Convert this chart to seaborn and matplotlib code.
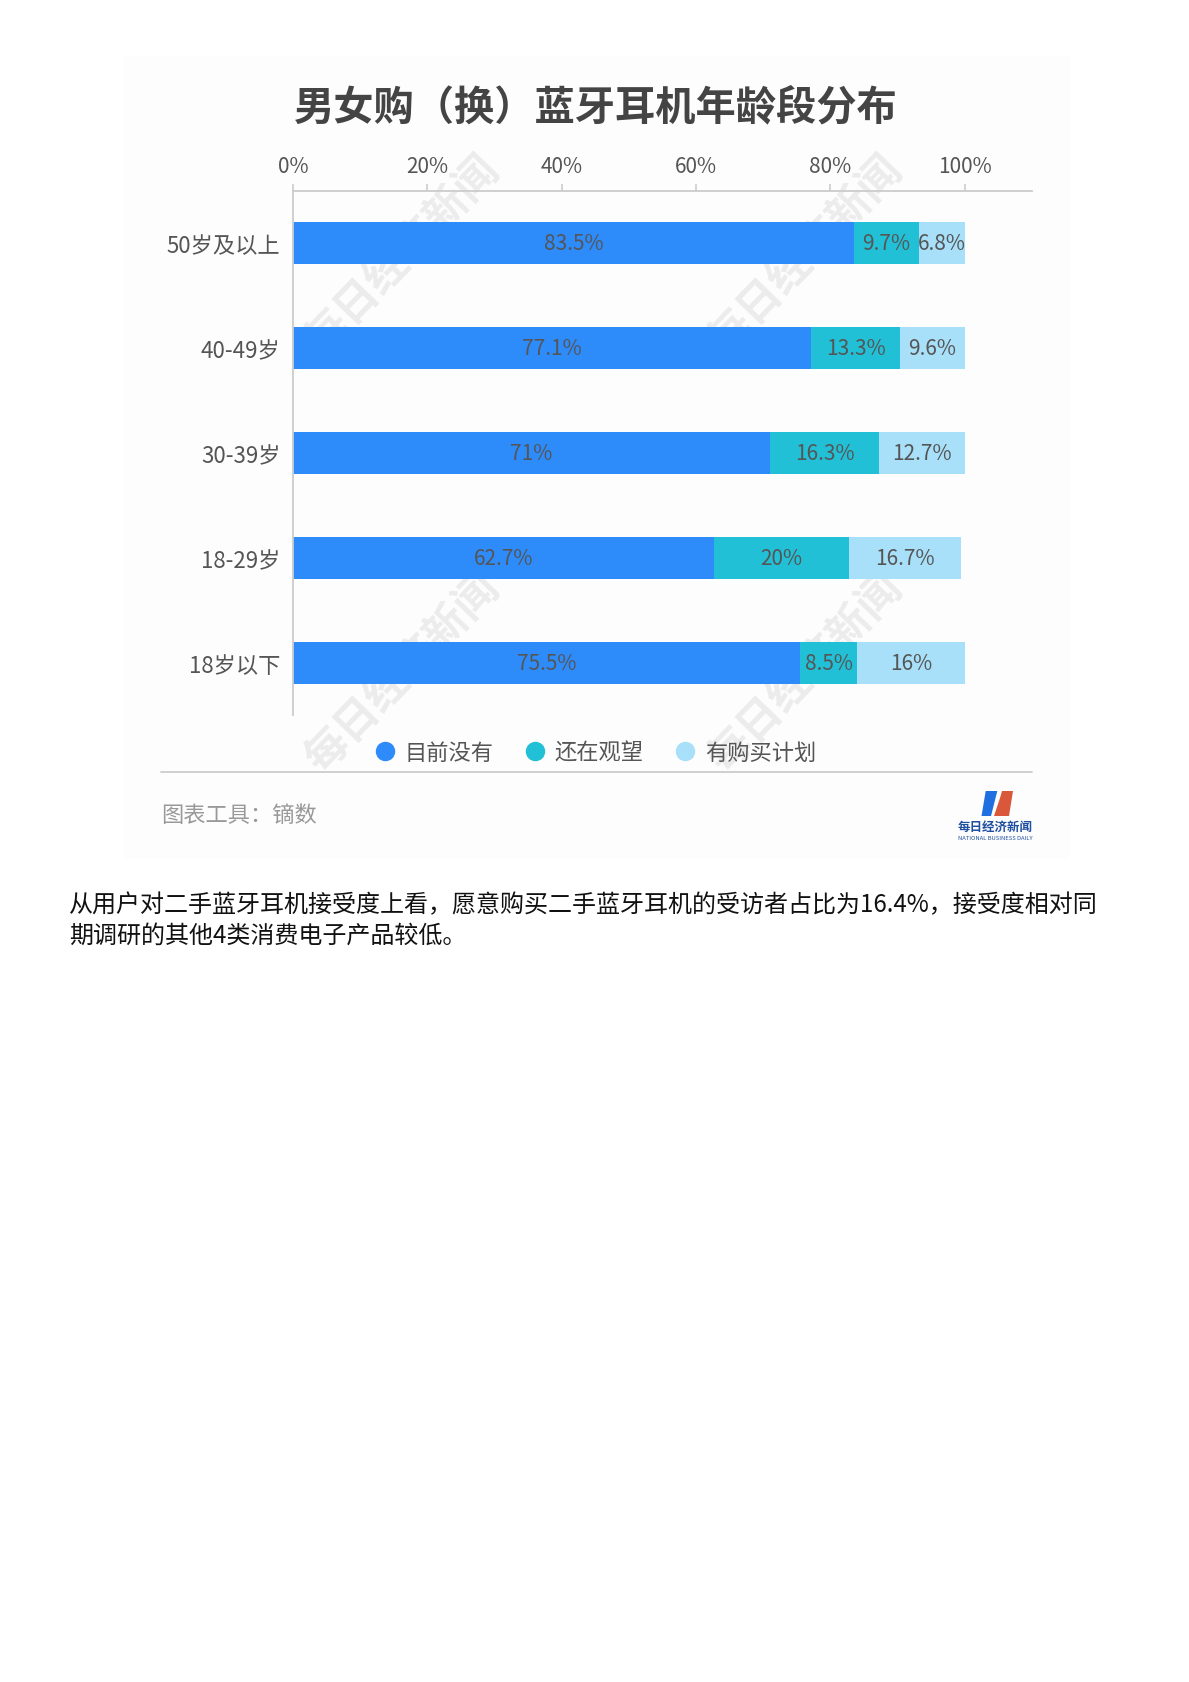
import matplotlib
matplotlib.use("Agg")
import matplotlib.pyplot as plt
import seaborn as sns
import pandas as pd
import numpy as np
from matplotlib.patches import Rectangle, Polygon
from matplotlib.lines import Line2D

# ---------------- data ----------------
categories = ["50岁及以上", "40-49岁", "30-39岁", "18-29岁", "18岁以下"]
series_names = ["目前没有", "还在观望", "有购买计划"]
none_now = [83.5, 77.1, 71.0, 62.7, 75.5]
watching = [9.7, 13.3, 16.3, 20.0, 8.5]
planning = [6.8, 9.6, 12.7, 16.7, 16.0]
value_labels = [
    ["83.5%", "77.1%", "71%", "62.7%", "75.5%"],
    ["9.7%", "13.3%", "16.3%", "20%", "8.5%"],
    ["6.8%", "9.6%", "12.7%", "16.7%", "16%"],
]
x_ticks = [0, 20, 40, 60, 80, 100]
x_tick_labels = ["0%", "20%", "40%", "60%", "80%", "100%"]
title = "男女购（换）蓝牙耳机年龄段分布"
footer = "图表工具：镝数"
watermark = "每日经济新闻"
paragraph = [
    "从用户对二手蓝牙耳机接受度上看，愿意购买二手蓝牙耳机的受访者占比为16.4%，接受度相对同",
    "期调研的其他4类消费电子产品较低。",
]
colors = ["#2E8BFA", "#22C0D6", "#A8E0F9"]

# ---------------- style ----------------
sns.set_style("white")
plt.rcParams["font.family"] = ["Noto Sans CJK SC", "DejaVu Sans"]

W, H = 1189, 1683
fig = plt.figure(figsize=(W / 100, H / 100), dpi=100)
fig.patch.set_facecolor("white")

def fx(px):
    return px / W

def fy(py):
    return 1 - py / H

# faint card background
fig.add_artist(Rectangle((fx(123), fy(860)), fx(1070) - fx(123), fy(57) - fy(860),
                         transform=fig.transFigure, facecolor="#fdfdfd",
                         edgecolor="none", zorder=-10))

# watermarks (behind the bars)
for (wx, wy) in [(403, 255), (806, 255), (403, 673), (806, 673)]:
    fig.text(fx(wx), fy(wy), watermark, rotation=46, ha="center", va="center",
             fontsize=31, weight="bold", color="#000000", alpha=0.07, zorder=-5)

ax = fig.add_axes([fx(293), fy(716), fx(1032) - fx(293), fy(192) - fy(716)])
ax.set_facecolor("none")

df = pd.DataFrame({
    "cat": categories,
    "a": none_now,
    "b": watching,
    "c": planning,
})
df["ab"] = df["a"] + df["b"]
df["abc"] = df["ab"] + df["c"]

for col, colr in [("abc", colors[2]), ("ab", colors[1]), ("a", colors[0])]:
    sns.barplot(data=df, x=col, y="cat", order=categories, orient="h",
                color=colr, saturation=1, width=0.4, linewidth=0, ax=ax)

ax.set_xlim(0, 110)
ax.set_ylim(len(categories) - 0.5, -0.5)
ax.set_xlabel("")
ax.set_ylabel("")

ax.xaxis.tick_top()
ax.set_xticks(x_ticks)
ax.set_xticklabels(x_tick_labels)
ax.tick_params(axis="x", colors="#cccccc", labelcolor="#555555", labelsize=15,
               length=5, width=1.2, pad=5, direction="out", top=True, bottom=False)
ax.tick_params(axis="y", colors="#cccccc", labelcolor="#555555", labelsize=16,
               length=5, width=1.2, pad=4, direction="out")
for s in ["bottom", "right"]:
    ax.spines[s].set_visible(False)
for s in ["top", "left"]:
    ax.spines[s].set_color("#cccccc")
    ax.spines[s].set_linewidth(1.3)

# value labels
for i in range(len(categories)):
    starts = [0, none_now[i], none_now[i] + watching[i]]
    widths = [none_now[i], watching[i], planning[i]]
    for k in range(3):
        ax.text(starts[k] + widths[k] / 2, i, value_labels[k][i],
                ha="center", va="center", fontsize=15, color="#555555")

# title
fig.text(fx(596), fy(108), title, ha="center", va="center", fontsize=29,
         weight="bold", color="#444444")

# legend
handles = [Line2D([0], [0], marker="o", linestyle="none", markersize=13,
                  markerfacecolor=c, markeredgecolor=c) for c in colors]
leg = fig.legend(handles, series_names, loc="center",
                 bbox_to_anchor=(fx(596), fy(753)), ncol=3, frameon=False,
                 fontsize=16, handlelength=0.8, handletextpad=0.5,
                 columnspacing=1.45, labelcolor="#555555")

# separator
fig.add_artist(Line2D([fx(161), fx(1032)], [fy(773), fy(773)],
                      transform=fig.transFigure, color="#cccccc", lw=1.3))

# footer
fig.text(fx(161), fy(815), footer, ha="left", va="center", fontsize=16,
         color="#999999")

# logo
fig.add_artist(Polygon([(fx(981.5), fy(817)), (fx(985.7), fy(792)), (fx(997.3), fy(792)),
                        (fx(991), fy(817))],
                       closed=True, transform=fig.transFigure,
                       facecolor="#1F6FE0", edgecolor="none"))
fig.add_artist(Polygon([(fx(994), fy(817)), (fx(1000), fy(799)), (fx(1002), fy(792)),
                        (fx(1013), fy(792)), (fx(1009), fy(817))],
                       closed=True, transform=fig.transFigure,
                       facecolor="#D9583B", edgecolor="none"))
fig.text(fx(995), fy(827), "每日经济新闻", ha="center", va="center", fontsize=9,
         weight="bold", color="#1F4FA0", style="italic")
fig.text(fx(995), fy(839), "NATIONAL BUSINESS DAILY", ha="center", va="center",
         fontsize=4.2, color="#1F4FA0")

# paragraph
fig.text(fx(69), fy(905), paragraph[0], ha="left", va="center", fontsize=17.3,
         color="#111111")
fig.text(fx(69), fy(936), paragraph[1], ha="left", va="center", fontsize=17.3,
         color="#111111")

fig.savefig("out.png", dpi=100, facecolor="white")
